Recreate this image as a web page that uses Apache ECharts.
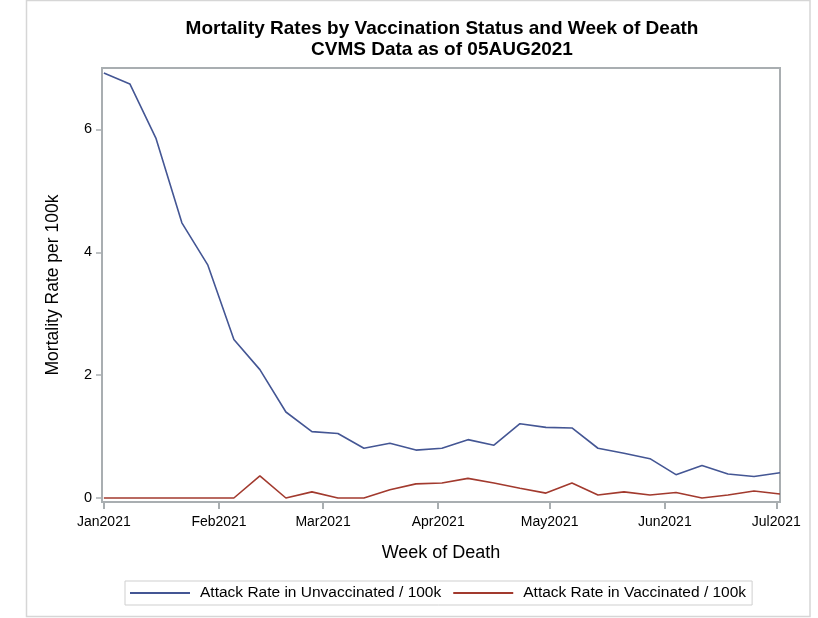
<!DOCTYPE html>
<html>
<head>
<meta charset="utf-8">
<script src="https://cdn.jsdelivr.net/npm/echarts@6/dist/echarts.min.js"></script>
<style>
  html, body { margin: 0; padding: 0; background: #fff; }
  #chart { width: 818px; height: 618px; }
</style>
</head>
<body>
<div id="chart"></div>
<script>
// week of death (weekly points)
const weeks = [
  '2021-01-01', '2021-01-08', '2021-01-15', '2021-01-22', '2021-01-29',
  '2021-02-05', '2021-02-12', '2021-02-19', '2021-02-26', '2021-03-05',
  '2021-03-12', '2021-03-19', '2021-03-26', '2021-04-02', '2021-04-09',
  '2021-04-16', '2021-04-23', '2021-04-30', '2021-05-07', '2021-05-14',
  '2021-05-21', '2021-05-28', '2021-06-04', '2021-06-11', '2021-06-18',
  '2021-06-25', '2021-07-02'
]
const unvaccinated = [
  6.92, 6.74, 5.86, 4.48, 3.79, 2.58, 2.09, 1.40, 1.08, 1.05,
  0.81, 0.89, 0.78, 0.81, 0.95, 0.86, 1.21, 1.15, 1.14, 0.81,
  0.73, 0.64, 0.38, 0.53, 0.39, 0.35, 0.41
]
const vaccinated = [
  0, 0, 0, 0, 0, 0, 0.36, 0, 0.10, 0,
  0, 0.135, 0.23, 0.245, 0.32, 0.245, 0.16, 0.08, 0.245, 0.05,
  0.10, 0.05, 0.09, 0, 0.05, 0.115, 0.065
]
const monthTicks = ['2021-01-01', '2021-02-01', '2021-03-01', '2021-04-01', '2021-05-01', '2021-06-01', '2021-07-01']
const yTicks = [0, 2, 4, 6]

const font = "'Liberation Sans', Arial, sans-serif"
const axisGray = '#a9aeb1'
const months = ['Jan', 'Feb', 'Mar', 'Apr', 'May', 'Jun', 'Jul', 'Aug', 'Sep', 'Oct', 'Nov', 'Dec']
const ts = d => Date.UTC(+d.slice(0, 4), +d.slice(5, 7) - 1, +d.slice(8, 10))
const DAY = 86400000

const chart = echarts.init(document.getElementById('chart'), null, { renderer: 'canvas' })

chart.setOption({
  animation: false,
  backgroundColor: '#fff',
  textStyle: { fontFamily: font },
  title: {
    text: 'Mortality Rates by Vaccination Status and Week of Death\nCVMS Data as of 05AUG2021',
    left: 437,
    top: 13,
    textAlign: 'center',
    textStyle: { fontSize: 19, fontWeight: 'bold', color: '#000', lineHeight: 21, fontFamily: font }
  },
  graphic: [
    {
      type: 'rect',
      shape: { x: 26.5, y: 0.5, width: 783.5, height: 616 },
      style: { fill: 'none', stroke: '#d6d6d6', lineWidth: 1.5 },
      silent: true
    }
  ],
  grid: {
    left: 102,
    right: 38,
    top: 68,
    bottom: 116,
    show: true,
    borderColor: axisGray,
    borderWidth: 2
  },
  legend: {
    bottom: 13,
    left: 125,
    orient: 'horizontal',
    icon: 'rect',
    itemWidth: 60,
    itemHeight: 2,
    itemGap: 12,
    padding: [4, 6, 4, 5],
    borderColor: '#cfcfcf',
    borderWidth: 1,
    textStyle: { fontSize: 15.5, color: '#000', fontFamily: font, padding: [0, 0, 0, 5] },
    data: ['Attack Rate in Unvaccinated / 100k', 'Attack Rate in Vaccinated / 100k']
  },
  xAxis: {
    type: 'value',
    min: ts('2021-01-01') - DAY / 2,
    max: ts('2021-07-02'),
    name: 'Week of Death',
    nameLocation: 'middle',
    nameGap: 42,
    nameTextStyle: { fontSize: 18, color: '#000', fontFamily: font },
    axisLine: { show: true, onZero: false, lineStyle: { color: axisGray, width: 2 } },
    axisTick: {
      show: true,
      length: 7,
      lineStyle: { color: axisGray, width: 2 },
      customValues: monthTicks.map(ts)
    },
    axisLabel: {
      fontSize: 14,
      color: '#000',
      margin: 13,
      customValues: monthTicks.map(ts),
      formatter: function (v) {
        const d = new Date(v)
        return months[d.getUTCMonth()] + d.getUTCFullYear()
      }
    },
    splitLine: { show: false }
  },
  yAxis: {
    type: 'value',
    min: -0.065,
    max: 7.0,
    name: 'Mortality Rate per 100k',
    nameLocation: 'middle',
    nameGap: 40,
    nameTextStyle: { fontSize: 17.5, color: '#000', fontFamily: font },
    axisLine: { show: true, onZero: false, lineStyle: { color: axisGray, width: 2 } },
    axisTick: {
      show: true,
      length: 6,
      lineStyle: { color: axisGray, width: 1.5 },
      customValues: yTicks
    },
    axisLabel: {
      fontSize: 14.5,
      color: '#000',
      margin: 10,
      customValues: yTicks
    },
    splitLine: { show: false }
  },
  series: [
    {
      name: 'Attack Rate in Unvaccinated / 100k',
      type: 'line',
      symbol: 'none',
      color: '#445694',
      lineStyle: { color: '#445694', width: 1.6 },
      data: weeks.map((w, i) => [ts(w), unvaccinated[i]])
    },
    {
      name: 'Attack Rate in Vaccinated / 100k',
      type: 'line',
      symbol: 'none',
      color: '#a23a2e',
      lineStyle: { color: '#a23a2e', width: 1.6 },
      data: weeks.map((w, i) => [ts(w), vaccinated[i]])
    }
  ]
})
</script>
</body>
</html>
